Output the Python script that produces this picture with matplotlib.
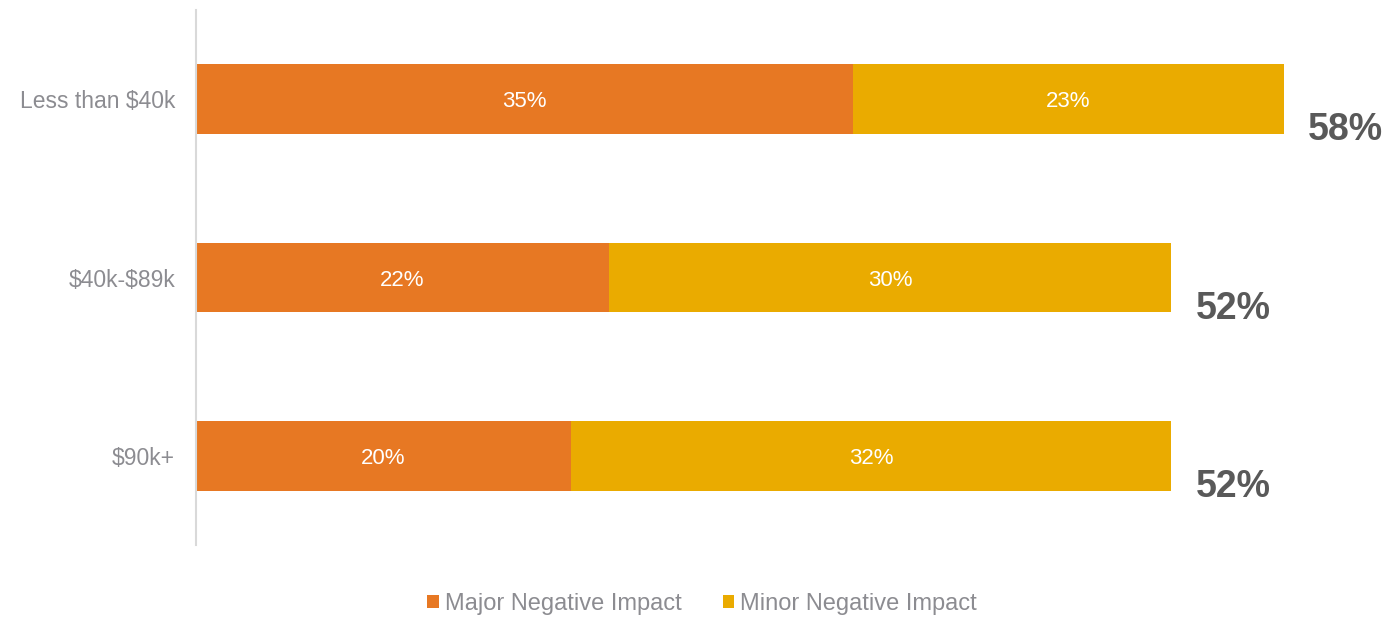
import matplotlib
matplotlib.use("Agg")
import matplotlib.pyplot as plt
import numpy as np

plt.rcParams['font.family'] = ['Liberation Sans', 'DejaVu Sans']
plt.rcParams['text.parse_math'] = False

categories = ["Less than $40k", "$40k-$89k", "$90k+"]
major = [35, 22, 20]
minor = [23, 30, 32]
series_names = ["Major Negative Impact", "Minor Negative Impact"]
colors = ["#E77823", "#EAAB00"]

fig = plt.figure(figsize=(13.85, 6.17), dpi=100)
ax = fig.add_axes([196 / 1385, 1 - 545 / 617, (1385 - 196) / 1385, 535 / 617])

y = np.arange(len(categories))
bar_h = 0.39
b1 = ax.barh(y, major, height=bar_h, color=colors[0], label=series_names[0])
b2 = ax.barh(y, minor, left=major, height=bar_h, color=colors[1], label=series_names[1])

for yi, m, n in zip(y, major, minor):
    ax.text(m / 2, yi, f"{m}%", ha="center", va="center_baseline", color="white", fontsize=16)
    ax.text(m + n / 2, yi, f"{n}%", ha="center", va="center_baseline", color="white", fontsize=16)
    ax.annotate(f"{m + n}%", xy=(m + n, yi), xytext=(24, -31), textcoords="offset pixels",
                ha="left", va="center", fontsize=27, fontweight="bold", color="#595959")

px_per_unit = (1284 - 196) / 58
ax.set_xlim(0, (1385 - 196) / px_per_unit)
ax.set_ylim(2.497, -0.497)

ax.set_yticks(y)
ax.set_yticklabels(categories, fontsize=16.5, color="#8C8C91")
ax.tick_params(axis="y", length=0, pad=15)
ax.set_xticks([])
for s in ["top", "right", "bottom"]:
    ax.spines[s].set_visible(False)
ax.spines["left"].set_color("#D9D9D9")
ax.spines["left"].set_linewidth(1.5)

leg = fig.legend(handles=[b1, b2], labels=series_names, loc="center",
                 bbox_to_anchor=(702 / 1385, 1 - 604 / 617), ncol=2, frameon=False,
                 fontsize=17, handlelength=0.5, handleheight=0.5, handletextpad=0.25,
                 columnspacing=1.75)
for t in leg.get_texts():
    t.set_color("#8C8C91")

fig.savefig("out.png", dpi=100)
